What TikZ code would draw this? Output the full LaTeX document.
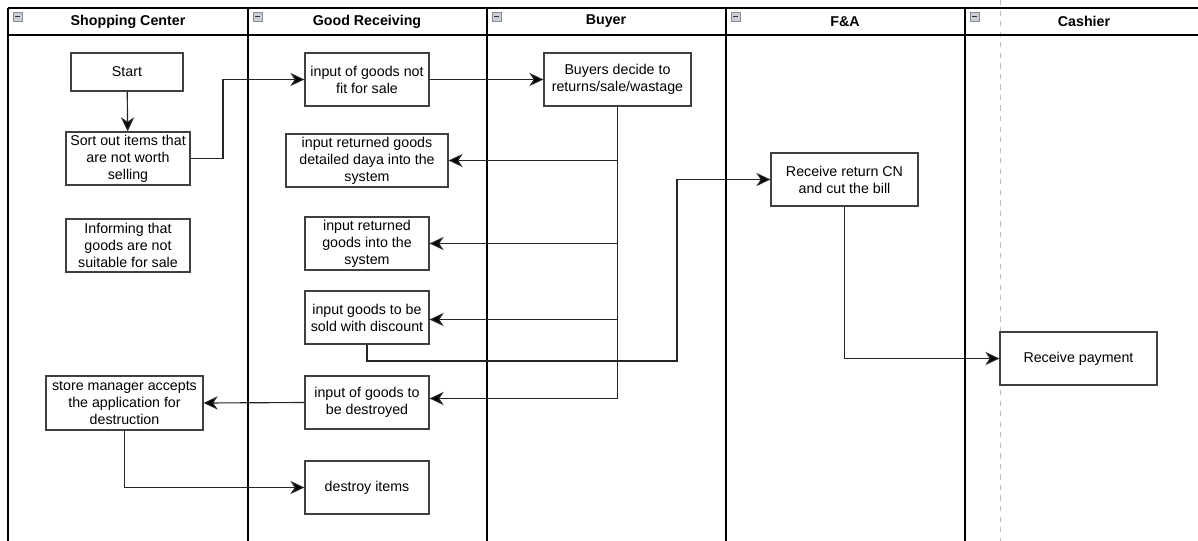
\documentclass[tikz,border=0pt]{standalone}
\usepackage{fontspec}
\setmainfont{Liberation Sans}
\usetikzlibrary{arrows.meta}
\definecolor{iconfill}{HTML}{C9CFD9}
\begin{document}
\begin{tikzpicture}[x=0.02cm,y=-0.02cm,
  lane/.style={draw=black, line width=0.6pt},
  box/.style={draw=black!75, line width=0.7pt, fill=white, align=center, inner sep=0pt,
    font=\fontsize{8.1}{9.6}\selectfont},
  hdr/.style={font=\bfseries\fontsize{8.1}{9.6}\selectfont},
  arr/.style={draw=black!85, line width=0.65pt, -{Stealth[length=8pt,width=7.5pt,inset=2.5pt,fill=black]}},
  minus/.style={draw=black!45, fill=iconfill, line width=0.4pt}
]
\useasboundingbox (0,0) rectangle (1198,541);
% pool lanes
\draw[black!25, dashed, line width=0.5pt] (1000,0) -- (1000,541);
\draw[lane] (8,8) -- (1198,8);
\draw[lane] (8,35) -- (1198,35);
\foreach \x in {8,248,487,726,965} {
  \draw[lane] (\x,8) -- (\x,541);
  \draw[minus] (\x+5,12) rectangle (\x+14,21);
  \draw[black!80, line width=0.7pt] (\x+7,16.5) -- (\x+12,16.5);
}
\node[hdr] (h1) at (128,21.5) {Shopping Center};
\node[hdr] (h2) at (367,21.5) {Good Receiving};
\node[hdr] (h3) at (606,21.5) {Buyer};
\node[hdr] (h4) at (845,21.5) {F\&A};
\node[hdr] (h5) at (1084,21.5) {Cashier};
% nodes
\node[box, minimum width=2.24cm, minimum height=0.76cm] (start) at (127,72) {Start};
\node[box, minimum width=2.48cm, minimum height=1.06cm] (sort) at (128,158.5) {Sort out items that\\are not worth\\selling};
\node[box, minimum width=2.48cm, minimum height=1.06cm] (inform) at (128,245.5) {Informing that\\goods are not\\suitable for sale};
\node[box, minimum width=3.14cm, minimum height=1.08cm] (manager) at (124.5,403) {store manager accepts\\the application for\\destruction};
\node[box, minimum width=2.48cm, minimum height=1.06cm] (notfit) at (367,79.5) {input of goods not\\fit for sale};
\node[box, minimum width=3.24cm, minimum height=1.06cm] (detailed) at (367,160.5) {input returned goods\\detailed daya into the\\system};
\node[box, minimum width=2.48cm, minimum height=1.06cm] (intosys) at (367,243.5) {input returned\\goods into the\\system};
\node[box, minimum width=2.48cm, minimum height=1.06cm] (discount) at (367,317.5) {input goods to be\\sold with discount};
\node[box, minimum width=2.48cm, minimum height=1.06cm] (destroyed) at (367,402.5) {input of goods to\\be destroyed};
\node[box, minimum width=2.48cm, minimum height=1.06cm] (destroy) at (367,487.5) {destroy items};
\node[box, minimum width=2.94cm, minimum height=1.06cm] (buyers) at (617.5,79.5) {Buyers decide to\\returns/sale/wastage};
\node[box, minimum width=2.94cm, minimum height=1.06cm] (cn) at (844.5,179.5) {Receive return CN\\and cut the bill};
\node[box, minimum width=3.14cm, minimum height=1.06cm] (payment) at (1078.5,358.5) {Receive payment};
% connectors
\draw[arr] (start) -- (sort);
\draw[arr] (sort.east) -- (223,158.5) |- (notfit.west);
\draw[arr] (notfit) -- (buyers);
\draw[arr] (buyers.south) |- (detailed.east);
\draw[arr] (buyers.south) |- (intosys.east);
\draw[arr] (buyers.south) |- (617.5,319.5) -- (discount.east |- 0,319.5);
\draw[arr] (buyers.south) |- (617.5,398.5) -- (destroyed.east |- 0,398.5);
\draw[arr] (discount.south) |- (677,361) |- (cn.west);
\draw[arr] (destroyed.west) -- (manager.east);
\draw[arr] (manager.south) |- (destroy.west);
\draw[arr] (cn.south) |- (payment.west);
\end{tikzpicture}
\end{document}
